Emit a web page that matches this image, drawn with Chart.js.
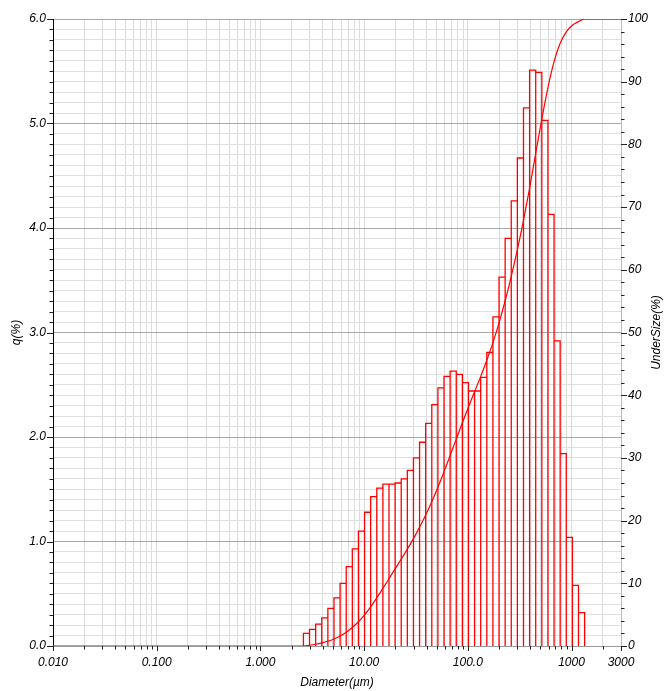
<!DOCTYPE html>
<html><head><meta charset="utf-8">
<script src="https://cdn.jsdelivr.net/npm/chart.js@4.4.0/dist/chart.umd.min.js"></script>
<style>html,body{margin:0;padding:0;background:#fff;}#wrap{width:670px;height:691px;position:relative;}</style>
</head><body><div id="wrap"><canvas id="c" width="670" height="691"></canvas></div>
<script>
// ---- Data ----
// Channel (bin) edges in µm
const binEdges = [2.599, 2.976, 3.409, 3.905, 4.472, 5.122, 5.867, 6.720, 7.697, 8.816,
  10.097, 11.565, 13.246, 15.172, 17.377, 19.904, 22.797, 26.111, 29.907, 34.255,
  39.234, 44.938, 51.471, 58.953, 67.523, 77.339, 88.583, 101.46, 116.21, 133.10,
  152.45, 174.62, 200.00, 229.07, 262.37, 300.51, 344.20, 394.24, 451.55, 517.20,
  592.39, 678.50, 777.14, 890.11, 1019.5, 1167.7, 1337.5];
// q(%) for each bin
const qPercent = [0.12, 0.16, 0.21, 0.27, 0.36, 0.46, 0.60, 0.76, 0.93, 1.10,
  1.28, 1.43, 1.51, 1.55, 1.55, 1.56, 1.60, 1.68, 1.80, 1.95,
  2.13, 2.31, 2.47, 2.58, 2.63, 2.60, 2.52, 2.44, 2.44, 2.57,
  2.81, 3.15, 3.53, 3.90, 4.26, 4.67, 5.15, 5.51, 5.49, 5.03,
  4.13, 2.92, 1.84, 1.04, 0.58, 0.32];
// Undersize (%) curve
const undersizeDiam = [0.01, 2.599, 2.976, 3.409, 3.905, 4.472, 5.122, 5.867, 6.720, 7.697, 8.816,
  10.097, 11.565, 13.246, 15.172, 17.377, 19.904, 22.797, 26.111, 29.907, 34.255,
  39.234, 44.938, 51.471, 58.953, 67.523, 77.339, 88.583, 101.46, 116.21, 133.10,
  152.45, 174.62, 200.00, 229.07, 262.37, 300.51, 344.20, 394.24, 451.55, 517.20,
  592.39, 678.50, 777.14, 890.11, 1019.5, 1167.7, 1337.5, 3000];
const undersizePct = [0, 0, 0.12, 0.28, 0.49, 0.76, 1.12, 1.58, 2.18, 2.94, 3.87,
  4.97, 6.25, 7.68, 9.19, 10.74, 12.29, 13.85, 15.45, 17.13, 18.93,
  20.88, 23.01, 25.32, 27.79, 30.37, 33.00, 35.60, 38.12, 40.56, 43.00,
  45.57, 48.38, 51.53, 55.06, 58.96, 63.22, 67.89, 73.04, 78.55, 84.04,
  89.07, 93.20, 96.12, 97.96, 99.00, 99.58, 100, 100];
// Tick labels
const xLabelValues = [0.01, 0.1, 1, 10, 100, 1000, 3000];
const xLabelTexts = ['0.010', '0.100', '1.000', '10.00', '100.0', '1000', '3000'];
const yLabelValues = [0, 1, 2, 3, 4, 5, 6];
const y2LabelValues = [0, 10, 20, 30, 40, 50, 60, 70, 80, 90, 100];

// ---- derived structures for the library ----
const barOutline = [];
qPercent.forEach((q, i) => {
  const a = binEdges[i], b = binEdges[i + 1];
  barOutline.push({x: a, y: 0}, {x: a, y: q}, {x: b, y: q}, {x: b, y: 0});
});
const curvePts = undersizeDiam.map((d, i) => ({x: d, y: undersizePct[i]}));

const xGrid = [];
for (let e = -2; e <= 3; e++) for (let m = 1; m <= 9; m++) {
  const v = +(m * Math.pow(10, e)).toPrecision(6);
  if (v <= 3000) xGrid.push(v);
}
if (xGrid[xGrid.length - 1] !== 3000) xGrid.push(3000);
const yGrid = [];
for (let i = 0; i <= 60; i++) yGrid.push(+(i / 10).toFixed(1));
const y2Minor = [];
for (let i = 0; i <= 100; i += 2) y2Minor.push(i);

const FONT = {family: '"Liberation Sans", Arial, sans-serif', size: 12, style: 'italic'};
const isInt = v => Math.abs(v - Math.round(v)) < 1e-6;
const al = p => Math.round(p) + 0.5;

const decor = {
  id: 'decor',
  afterDraw(chart) {
    const {ctx, chartArea: ca, scales} = chart;
    const x = scales.x, y = scales.y, y2 = scales.y2;
    ctx.save();
    ctx.strokeStyle = '#222';
    ctx.lineWidth = 1;
    ctx.beginPath();
    yGrid.forEach(v => {
      const p = al(y.getPixelForValue(v));
      const len = isInt(v) ? 6 : 3.5;
      ctx.moveTo(ca.left - len, p); ctx.lineTo(ca.left, p);
    });
    y2Minor.forEach(v => {
      const p = al(y2.getPixelForValue(v));
      const len = v % 10 === 0 ? 6 : 3.5;
      ctx.moveTo(ca.right, p); ctx.lineTo(ca.right + len, p);
    });
    xGrid.forEach(v => {
      const p = al(x.getPixelForValue(v));
      const major = xLabelValues.some(t => Math.abs(t - v) / t < 1e-6);
      ctx.moveTo(p, ca.bottom); ctx.lineTo(p, ca.bottom + (major ? 5 : 3.5));
    });
    ctx.stroke();
    ctx.fillStyle = '#000';
    ctx.font = 'italic 12px "Liberation Sans", Arial, sans-serif';
    ctx.textAlign = 'center';
    ctx.textBaseline = 'middle';
    ctx.fillText('Diameter(\u00b5m)', (ca.left + ca.right) / 2, 683);
    ctx.save();
    ctx.translate(17, (ca.top + ca.bottom) / 2);
    ctx.rotate(-Math.PI / 2);
    ctx.fillText('q(%)', 0, 0);
    ctx.restore();
    ctx.save();
    ctx.translate(657, (ca.top + ca.bottom) / 2);
    ctx.rotate(-Math.PI / 2);
    ctx.fillText('UnderSize(%)', 0, 0);
    ctx.restore();
    ctx.restore();
  }
};

new Chart(document.getElementById('c'), {
  type: 'line',
  data: {
    datasets: [
      {
        label: 'q(%)', data: barOutline, yAxisID: 'y',
        borderColor: '#ff0000', borderWidth: 1.3, pointRadius: 0, tension: 0,
        fill: false, clip: 0, borderJoinStyle: 'miter'
      },
      {
        label: 'UnderSize(%)', data: curvePts, yAxisID: 'y2',
        borderColor: '#ff0000', borderWidth: 1.2, pointRadius: 0,
        cubicInterpolationMode: 'monotone', fill: false, clip: 0
      }
    ]
  },
  options: {
    responsive: false, animation: false,
    layout: {padding: {top: 19, left: 0, right: 0, bottom: 0}},
    plugins: {legend: {display: false}, tooltip: {enabled: false}},
    scales: {
      x: {
        type: 'logarithmic', position: 'bottom', min: 0.01, max: 3000,
        afterBuildTicks: s => { s.ticks = xGrid.map(v => ({value: v})); },
        afterFit: s => { s.height = 45; },
        ticks: {
          autoSkip: false, maxRotation: 0, minRotation: 0, padding: 9, color: '#000', font: FONT,
          callback: v => {
            const i = xLabelValues.findIndex(t => Math.abs(t - v) / t < 1e-6);
            return i >= 0 ? xLabelTexts[i] : '';
          }
        },
        grid: {color: '#dcdcdc', drawTicks: false, lineWidth: 1},
        border: {display: true, color: '#999'}
      },
      y: {
        type: 'linear', position: 'left', min: 0, max: 6,
        afterBuildTicks: s => { s.ticks = yGrid.map(v => ({value: v})); },
        afterFit: s => { s.width = 53; },
        ticks: {
          autoSkip: false, padding: 7, color: '#000', font: FONT,
          callback: v => (yLabelValues.some(t => Math.abs(t - v) < 1e-6) ? (+v).toFixed(1) : '')
        },
        grid: {
          drawTicks: false,
          color: c => (isInt(c.tick.value) ? '#a9a9a9' : '#e0e0e0')
        },
        border: {display: true, color: '#000'}
      },
      y2: {
        type: 'linear', position: 'right', min: 0, max: 100,
        afterBuildTicks: s => { s.ticks = y2LabelValues.map(v => ({value: v})); },
        afterFit: s => { s.width = 49; },
        ticks: {autoSkip: false, padding: 7, color: '#000', font: FONT, callback: v => String(v)},
        grid: {display: false, drawTicks: false},
        border: {display: true, color: '#bbb'}
      }
    }
  },
  plugins: [decor]
});
</script></body></html>
